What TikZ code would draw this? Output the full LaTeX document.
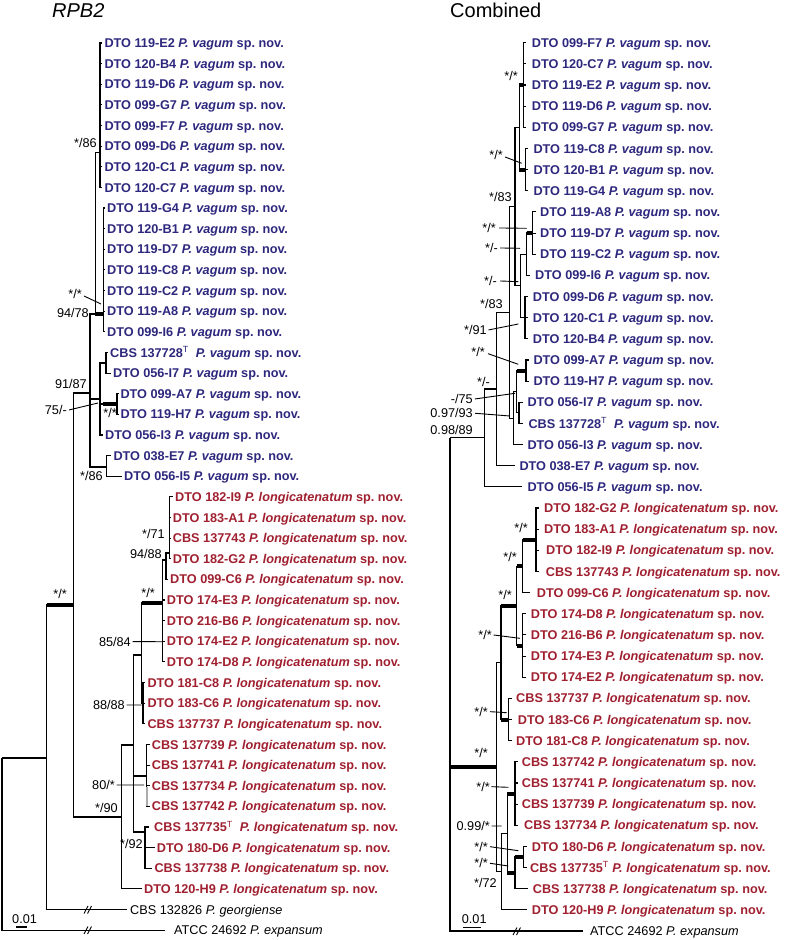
\documentclass[tikz,border=0pt]{standalone}
\usepackage{fontspec}
\setmainfont{Liberation Sans}
\definecolor{vag}{RGB}{45,40,125}
\definecolor{lon}{RGB}{160,32,48}
\newcommand{\pvag}{\textit{P.~vagum} sp.~nov.}
\newcommand{\plon}{\textit{P.~longicatenatum} sp.~nov.}
\newcommand{\tsup}{\textsuperscript{\mdseries T}}
\newcommand{\Ltip}[6]{\coordinate (#1) at (#2,{43+20.63*#4}); \node[#5] (#1t) at (#3,{47.6+20.63*#4}) {#6};}
\newcommand{\Rtip}[6]{\coordinate (#1) at (#2,{42.7+21.15*#4}); \node[#5] (#1t) at (#3,{47.3+21.15*#4}) {#6};}
\newcommand{\lab}[4]{\node[lb] (#1) at (#2,{#3+4.5}) {#4};}
\tikzset{
 tv/.style={anchor=base west, inner sep=0pt, font=\fontsize{12.7}{15}\selectfont\bfseries, text=vag},
 tl/.style={tv, text=lon},
 tout/.style={anchor=base west, inner sep=0pt, font=\fontsize{12.7}{15}\selectfont, text=black},
 lb/.style={anchor=base east, inner sep=0pt, font=\fontsize{12.7}{15}\selectfont},
 br/.style={line width=1.1pt},
 thk/.style={line width=4pt},
 ld/.style={line width=0.9pt},
}
\begin{document}
\begin{tikzpicture}[x=1pt,y=-1pt]
\fill[white] (0,0) rectangle (786,940);
\useasboundingbox (0,0) rectangle (786,940);
% headers
\node[anchor=base west, inner sep=0pt, font=\fontsize{20}{24}\selectfont\itshape] (h1) at (52,17.5) {RPB2};
\node[anchor=base west, inner sep=0pt, font=\fontsize{20}{24}\selectfont] (h2) at (450,17.5) {Combined};
% ================= LEFT TREE =================
\Ltip{a0}{102}{104.3}{0}{tv}{DTO 119-E2 \pvag}
\Ltip{a1}{102}{104.3}{1}{tv}{DTO 120-B4 \pvag}
\Ltip{a2}{102}{104.3}{2}{tv}{DTO 119-D6 \pvag}
\Ltip{a3}{102}{104.3}{3}{tv}{DTO 099-G7 \pvag}
\Ltip{a4}{102}{104.3}{4}{tv}{DTO 099-F7 \pvag}
\Ltip{a5}{102}{104.3}{5}{tv}{DTO 099-D6 \pvag}
\Ltip{a6}{102}{104.3}{6}{tv}{DTO 120-C1 \pvag}
\Ltip{a7}{102}{104.3}{7}{tv}{DTO 120-C7 \pvag}
\Ltip{a8}{105}{107}{8}{tv}{DTO 119-G4 \pvag}
\Ltip{a9}{105}{107}{9}{tv}{DTO 120-B1 \pvag}
\Ltip{a10}{105}{107}{10}{tv}{DTO 119-D7 \pvag}
\Ltip{a11}{105}{107}{11}{tv}{DTO 119-C8 \pvag}
\Ltip{a12}{105}{107}{12}{tv}{DTO 119-C2 \pvag}
\Ltip{a13}{105}{107}{13}{tv}{DTO 119-A8 \pvag}
\Ltip{a14}{105}{107}{14}{tv}{DTO 099-I6 \pvag}
\Ltip{a15}{108}{110}{15}{tv}{CBS 137728\tsup\ \ \pvag}
\Ltip{a16}{111}{113}{16}{tv}{DTO 056-I7 \pvag}
\Ltip{a17}{118.5}{120.3}{17}{tv}{DTO 099-A7 \pvag}
\Ltip{a18}{118.5}{120.3}{18}{tv}{DTO 119-H7 \pvag}
\Ltip{a19}{103}{105}{19}{tv}{DTO 056-I3 \pvag}
\Ltip{a20}{110.5}{113.3}{20}{tv}{DTO 038-E7 \pvag}
\Ltip{a21}{122}{124}{21}{tv}{DTO 056-I5 \pvag}
\Ltip{a22}{172.5}{175}{22}{tl}{DTO 182-I9 \plon}
\Ltip{a23}{171}{172.7}{23}{tl}{DTO 183-A1 \plon}
\Ltip{a24}{171}{172.7}{24}{tl}{CBS 137743 \plon}
\Ltip{a25}{171}{172.7}{25}{tl}{DTO 182-G2 \plon}
\Ltip{a26}{168}{170}{26}{tl}{DTO 099-C6 \plon}
\Ltip{a27}{164.5}{166.7}{27}{tl}{DTO 174-E3 \plon}
\Ltip{a28}{164.5}{166.7}{28}{tl}{DTO 216-B6 \plon}
\Ltip{a29}{164.5}{166.7}{29}{tl}{DTO 174-E2 \plon}
\Ltip{a30}{164.5}{166.7}{30}{tl}{DTO 174-D8 \plon}
\Ltip{a31}{145.3}{147.3}{31}{tl}{DTO 181-C8 \plon}
\Ltip{a32}{145.3}{147.3}{32}{tl}{DTO 183-C6 \plon}
\Ltip{a33}{145.3}{147.3}{33}{tl}{CBS 137737 \plon}
\Ltip{a34}{149.7}{151.7}{34}{tl}{CBS 137739 \plon}
\Ltip{a35}{149.7}{151.7}{35}{tl}{CBS 137741 \plon}
\Ltip{a36}{149.7}{151.7}{36}{tl}{CBS 137734 \plon}
\Ltip{a37}{149.7}{151.7}{37}{tl}{CBS 137742 \plon}
\Ltip{a38}{149}{154}{38}{tl}{CBS 137735\tsup\ \ \plon}
\Ltip{a39}{154.5}{156.7}{39}{tl}{DTO 180-D6 \plon}
\Ltip{a40}{152}{154.3}{40}{tl}{CBS 137738 \plon}
\Ltip{a41}{141.5}{144}{41}{tl}{DTO 120-H9 \plon}
\Ltip{a42}{127}{130}{42}{tout}{CBS 132826 \textit{P.~georgiense}}
\Ltip{a43}{165}{174}{43}{tout}{ATCC 24692 \textit{P.~expansum}}
% internal nodes
\coordinate (cA) at (100,152.7);
\coordinate (cB) at (103.3,314);
\coordinate (nAB) at (95.3,314);
\coordinate (cC) at (106,363);
\coordinate (cD) at (117,404);
\coordinate (n100) at (100,399);
\coordinate (cE) at (106.7,467);
\coordinate (n90) at (90,393);
\coordinate (c4) at (169.3,553);
\coordinate (nD) at (166,560);
\coordinate (nC) at (162.3,603);
\coordinate (c5) at (143,703);
\coordinate (nB) at (141.7,655);
\coordinate (c6) at (146.7,776);
\coordinate (c7) at (145,832);
\coordinate (nA) at (133.3,745);
\coordinate (nL) at (121.7,817);
\coordinate (n73) at (73.3,605);
\coordinate (n46) at (46.7,758);
\coordinate (r0) at (2,758);
% edges
\foreach \i in {0,...,7} \draw[br] (cA) |- (a\i);
\foreach \i in {8,...,14} \draw[br] (cB) |- (a\i);
\draw[br] (cC) |- (a15); \draw[br] (cC) |- (a16);
\draw[br] (cD) |- (a17); \draw[br] (cD) |- (a18);
\draw[br] (n100) |- (cC); \draw[br] (n100) |- (cD); \draw[br] (n100) |- (a19);
\draw[thk] ([xshift=-14pt]cD) -- (cD);
\draw[br] (cE) |- (a20); \draw[br] (cE) |- (a21);
\draw[br] (nAB) |- (cA); \draw[br] (nAB) |- (cB); \draw[thk] (nAB) -- (cB);
\draw[br] (n90) |- (nAB); \draw[br] (n90) |- (n100); \draw[br] (n90) |- (cE);
\foreach \i in {22,...,25} \draw[br] (c4) |- (a\i);
\draw[br] (nD) |- (c4); \draw[br] (nD) |- (a26);
\foreach \i in {27,...,30} \draw[br] (nC) |- (a\i);
\draw[br] (nC) |- (nD);
\foreach \i in {31,...,33} \draw[br] (c5) |- (a\i);
\draw[br] (nB) |- (nC); \draw[thk] (nB |- nC) -- (nC); \draw[br] (nB) |- (c5);
\foreach \i in {34,...,37} \draw[br] (c6) |- (a\i);
\foreach \i in {38,...,40} \draw[br] (c7) |- (a\i);
\draw[br] (nA) |- (nB); \draw[br] (nA) |- (c6); \draw[br] (nA) |- (c7);
\draw[br] (nL) |- (nA); \draw[br] (nL) |- (a41);
\draw[br] (n73) |- (n90); \draw[br] (n73) |- (nL);
\draw[br] (n46) |- (n73); \draw[thk] (n46 |- n73) -- (n73); \draw[br] (n46) |- (a42);
\draw[br] (r0) |- (n46); \draw[br] (r0) |- (a43);
\draw[line width=2.2pt, gray!65] (146.7,787) -- (146.7,806);
% breaks
\draw[ld] (84,913.5) -- (88,906); \draw[ld] (87.5,913.5) -- (91.5,906);
\draw[ld] (84,934) -- (88,926.5); \draw[ld] (87.5,934) -- (91.5,926.5);
% labels left
\lab{p1}{97}{143}{*/86}
\lab{p2}{82}{294}{*/*}
\coordinate (p2e) at (101,304); \draw[ld] ([xshift=2pt,yshift=-2pt]p2.east) -- (p2e);
\lab{p3}{89}{313}{94/78}
\lab{p4}{87}{384}{91/87}
\lab{p5}{67}{410}{75/-}
\coordinate (p5e) at (98,403); \draw[ld] ([xshift=2pt]p5.east) -- (p5e);
\lab{p6}{117}{413}{*/*}
\lab{p7}{103}{476}{*/86}
\lab{p8}{67}{594}{*/*}
\lab{p9}{165}{534}{*/71}
\lab{p10}{162}{554}{94/88}
\lab{p11}{155}{593}{*/*}
\lab{p12}{131}{641.7}{85/84}
\coordinate (p12e) at (162.3,641.7); \draw[ld] ([xshift=1.5pt]p12.east) -- (p12e);
\lab{p13}{125}{705}{88/88}
\coordinate (p13e) at (141.7,705); \draw[ld] ([xshift=1.5pt]p13.east) -- (p13e);
\lab{p14}{115}{785}{80/*}
\coordinate (p14e) at (144,785); \draw[ld] ([xshift=1.5pt]p14.east) -- (p14e);
\lab{p15}{118}{808}{*/90}
\lab{p16}{143}{844}{*/92}
\node[tout] (s1) at (12,923) {0.01};
\coordinate (s1a) at (16,927); \coordinate (s1b) at (26.7,927);
\draw[br] (s1a) -- (s1b);
% ================= RIGHT TREE =================
\Rtip{b0}{526}{531.7}{0}{tv}{DTO 099-F7 \pvag}
\Rtip{b1}{526}{531.7}{1}{tv}{DTO 120-C7 \pvag}
\Rtip{b2}{526}{531.7}{2}{tv}{DTO 119-E2 \pvag}
\Rtip{b3}{526}{531.7}{3}{tv}{DTO 119-D6 \pvag}
\Rtip{b4}{526}{531.7}{4}{tv}{DTO 099-G7 \pvag}
\Rtip{b5}{528}{533.3}{5}{tv}{DTO 119-C8 \pvag}
\Rtip{b6}{528}{533.3}{6}{tv}{DTO 120-B1 \pvag}
\Rtip{b7}{528}{533.3}{7}{tv}{DTO 119-G4 \pvag}
\Rtip{b8}{535.5}{540}{8}{tv}{DTO 119-A8 \pvag}
\Rtip{b9}{535.5}{540}{9}{tv}{DTO 119-D7 \pvag}
\Rtip{b10}{535.5}{540}{10}{tv}{DTO 119-C2 \pvag}
\Rtip{b11}{530}{535}{11}{tv}{DTO 099-I6 \pvag}
\Rtip{b12}{528}{532.7}{12}{tv}{DTO 099-D6 \pvag}
\Rtip{b13}{528}{532.7}{13}{tv}{DTO 120-C1 \pvag}
\Rtip{b14}{528}{532.7}{14}{tv}{DTO 120-B4 \pvag}
\Rtip{b15}{529}{533.3}{15}{tv}{DTO 099-A7 \pvag}
\Rtip{b16}{529}{533.3}{16}{tv}{DTO 119-H7 \pvag}
\Rtip{b17}{522.5}{527.3}{17}{tv}{DTO 056-I7 \pvag}
\Rtip{b18}{522.5}{528.3}{18}{tv}{CBS 137728\tsup\ \ \pvag}
\Rtip{b19}{523}{527.3}{19}{tv}{DTO 056-I3 \pvag}
\Rtip{b20}{514.5}{519.3}{20}{tv}{DTO 038-E7 \pvag}
\Rtip{b21}{522}{527.3}{21}{tv}{DTO 056-I5 \pvag}
\Rtip{b22}{538.5}{544}{22}{tl}{DTO 182-G2 \plon}
\Rtip{b23}{538.5}{544}{23}{tl}{DTO 183-A1 \plon}
\Rtip{b24}{538.5}{546}{24}{tl}{DTO 182-I9 \plon}
\Rtip{b25}{538.5}{545.7}{25}{tl}{CBS 137743 \plon}
\Rtip{b26}{530}{536.7}{26}{tl}{DTO 099-C6 \plon}
\Rtip{b27}{525.5}{530.7}{27}{tl}{DTO 174-D8 \plon}
\Rtip{b28}{525.5}{530.7}{28}{tl}{DTO 216-B6 \plon}
\Rtip{b29}{525.5}{530.7}{29}{tl}{DTO 174-E3 \plon}
\Rtip{b30}{525.5}{530.7}{30}{tl}{DTO 174-E2 \plon}
\Rtip{b31}{511.5}{516}{31}{tl}{CBS 137737 \plon}
\Rtip{b32}{511.5}{517.7}{32}{tl}{DTO 183-C6 \plon}
\Rtip{b33}{511.5}{516}{33}{tl}{DTO 181-C8 \plon}
\Rtip{b34}{518}{521.7}{34}{tl}{CBS 137742 \plon}
\Rtip{b35}{518}{521.7}{35}{tl}{CBS 137741 \plon}
\Rtip{b36}{518}{521.7}{36}{tl}{CBS 137739 \plon}
\Rtip{b37}{518}{524}{37}{tl}{CBS 137734 \plon}
\Rtip{b38}{527}{531.7}{38}{tl}{DTO 180-D6 \plon}
\Rtip{b39}{526.5}{530}{39}{tl}{CBS 137735\tsup\ \plon}
\Rtip{b40}{528}{532.7}{40}{tl}{CBS 137738 \plon}
\Rtip{b41}{527}{531.7}{41}{tl}{DTO 120-H9 \plon}
\Rtip{b42}{583.3}{590}{42}{tout}{ATCC 24692 \textit{P.~expansum}}
% internal nodes
\coordinate (cR1) at (523.3,85);
\coordinate (cR2) at (525.7,169.6);
\coordinate (P) at (519.3,127.3);
\coordinate (cR3) at (532.7,233);
\coordinate (Q) at (526.7,254.1);
\coordinate (cR4) at (525,317.65);
\coordinate (R) at (520.7,285.8);
\coordinate (W) at (515,206.5);
\coordinate (cR5) at (526,370.5);
\coordinate (cR6) at (519,412.8);
\coordinate (X1) at (516.7,391.7);
\coordinate (X2) at (513.3,418.1);
\coordinate (V) at (509.3,312.3);
\coordinate (U) at (496.7,389);
\coordinate (T) at (484.3,437.9);
\coordinate (Z) at (450,437.9);
\coordinate (cL1) at (536,539.8);
\coordinate (M1) at (522.7,566.2);
\coordinate (cL2) at (522.7,645.5);
\coordinate (M2) at (516.7,605.85);
\coordinate (cL3) at (508.3,719.5);
\coordinate (M3) at (501,662.7);
\coordinate (cL4) at (515,793.5);
\coordinate (cL5) at (523.3,857);
\coordinate (M5) at (515,872.85);
\coordinate (M4) at (507.3,833.2);
\coordinate (M6) at (501.7,871.5);
\coordinate (L1) at (496.7,767.1);
% edges
\foreach \i in {0,...,4} \draw[br] (cR1) |- (b\i);
\foreach \i in {5,...,7} \draw[br] (cR2) |- (b\i);
\draw[br] (P) |- (cR1); \draw[thk] (P |- cR1) -- (cR1);
\draw[br] (P) |- (cR2); \draw[thk] (P |- cR2) -- (cR2);
\foreach \i in {8,...,10} \draw[br] (cR3) |- (b\i);
\draw[br] (Q) |- (cR3); \draw[thk] (Q |- cR3) -- (cR3); \draw[br] (Q) |- (b11);
\foreach \i in {12,...,14} \draw[br] (cR4) |- (b\i);
\draw[br] (R) |- (Q); \draw[br] (R) |- (cR4);
\draw[br] (W) |- (P); \draw[br] (W) |- (R);
\draw[br] (cR5) |- (b15); \draw[br] (cR5) |- (b16);
\draw[br] (cR6) |- (b17); \draw[br] (cR6) |- (b18);
\draw[br] (X1) |- (cR5); \draw[thk] (X1 |- cR5) -- (cR5); \draw[br] (X1) |- (cR6);
\draw[br] (X2) |- (X1); \draw[br] (X2) |- (b19);
\draw[br] (V) |- (W); \draw[br] (V) |- (X2);
\draw[br] (U) |- (V); \draw[br] (U) |- (b20);
\draw[br] (T) |- (U); \draw[br] (T) |- (b21);
\draw[br] (Z) |- (T); \draw[br] (Z) |- (L1); \draw[thk] (Z |- L1) -- (L1); \draw[br] (Z) |- (b42);
\foreach \i in {22,...,25} \draw[br] (cL1) |- (b\i);
\draw[br] (M1) |- (cL1); \draw[thk] (M1 |- cL1) -- (cL1); \draw[br] (M1) |- (b26);
\foreach \i in {27,...,30} \draw[br] (cL2) |- (b\i);
\draw[br] (M2) |- (M1); \draw[thk] (M2 |- M1) -- (M1);
\draw[br] (M2) |- (cL2); \draw[thk] (M2 |- cL2) -- (cL2);
\foreach \i in {31,...,33} \draw[br] (cL3) |- (b\i);
\draw[br] (M3) |- (M2); \draw[thk] (M3 |- M2) -- (M2);
\draw[br] (M3) |- (cL3); \draw[thk] (M3 |- cL3) -- (cL3);
\foreach \i in {34,...,37} \draw[br] (cL4) |- (b\i);
\draw[br] (cL5) |- (b38); \draw[br] (cL5) |- (b39);
\draw[br] (M5) |- (cL5); \draw[thk] (M5 |- cL5) -- (cL5); \draw[br] (M5) |- (b40);
\draw[br] (M4) |- (cL4); \draw[thk] (M4 |- cL4) -- (cL4);
\draw[br] (M4) |- (M5); \draw[thk] (M4 |- M5) -- (M5);
\draw[br] (M6) |- (M4); \draw[br] (M6) |- (b41);
\draw[br] (L1) |- (M3); \draw[br] (L1) |- (M6);
% break
\draw[ld] (513,935) -- (517,927.5); \draw[ld] (516.5,935) -- (520.5,927.5);
% labels right
\lab{q1}{518}{76}{*/*}
\lab{q2}{503}{155}{*/*}
\coordinate (q2e) at (521.7,163.3); \draw[ld] ([xshift=2pt,yshift=-2pt]q2.east) -- (q2e);
\lab{q3}{512}{197}{*/83}
\lab{q4}{496}{228}{*/*}
\coordinate (q4e) at (526.7,228.3); \draw[ld] ([xshift=3pt]q4.east) -- (q4e);
\lab{q5}{498}{248}{*/-}
\coordinate (q5e) at (520,248.3); \draw[ld] ([xshift=2pt]q5.east) -- (q5e);
\lab{q6}{497}{281}{*/-}
\coordinate (q6e) at (518.3,281.7); \draw[ld] ([xshift=3pt]q6.east) -- (q6e);
\lab{q7}{503}{304}{*/83}
\lab{q8}{487}{330}{*/91}
\coordinate (q8e) at (518.3,324); \draw[ld] ([xshift=1.5pt]q8.east) -- (q8e);
\lab{q9}{485}{351.7}{*/*}
\coordinate (q9e) at (518.3,364.3); \draw[ld] ([xshift=3pt,yshift=-2pt]q9.east) -- (q9e);
\lab{q10}{490}{381.7}{*/-}
\lab{q11}{473}{399}{-/75}
\coordinate (q11e) at (515,393.3); \draw[ld] ([xshift=2pt]q11.east) -- (q11e);
\lab{q12}{473}{413.3}{0.97/93}
\coordinate (q12e) at (510,416); \draw[ld] ([xshift=2pt]q12.east) -- (q12e);
\lab{q13}{473}{430}{0.98/89}
\lab{q14}{528}{528.3}{*/*}
\lab{q15}{517}{556.7}{*/*}
\lab{q16}{512}{595}{*/*}
\lab{q17}{492}{635}{*/*}
\coordinate (q17e) at (520,638.3); \draw[ld] ([xshift=1.5pt]q17.east) -- (q17e);
\lab{q18}{488}{711.7}{*/*}
\coordinate (q18e) at (506.7,712.7); \draw[ld] ([xshift=2pt]q18.east) -- (q18e);
\lab{q19}{488}{753.3}{*/*}
\lab{q20}{490}{786.7}{*/*}
\coordinate (q20e) at (508.3,787.3); \draw[ld] ([xshift=1.5pt]q20.east) -- (q20e);
\lab{q21}{490}{826}{0.99/*}
\coordinate (q21e) at (501.7,826); \draw[ld] ([xshift=1.5pt]q21.east) -- (q21e);
\lab{q22}{488}{846.7}{*/*}
\coordinate (q22e) at (518.3,850.7); \draw[ld] ([xshift=2pt]q22.east) -- (q22e);
\lab{q23}{488}{863.3}{*/*}
\coordinate (q23e) at (508.3,866); \draw[ld] ([xshift=2pt]q23.east) -- (q23e);
\lab{q24}{497}{882.7}{*/72}
\node[tout] (s2) at (461.7,923) {0.01};
\coordinate (s2a) at (462.7,927.3); \coordinate (s2b) at (480.7,927.3);
\draw[br] (s2a) -- (s2b);
\end{tikzpicture}
\end{document}
